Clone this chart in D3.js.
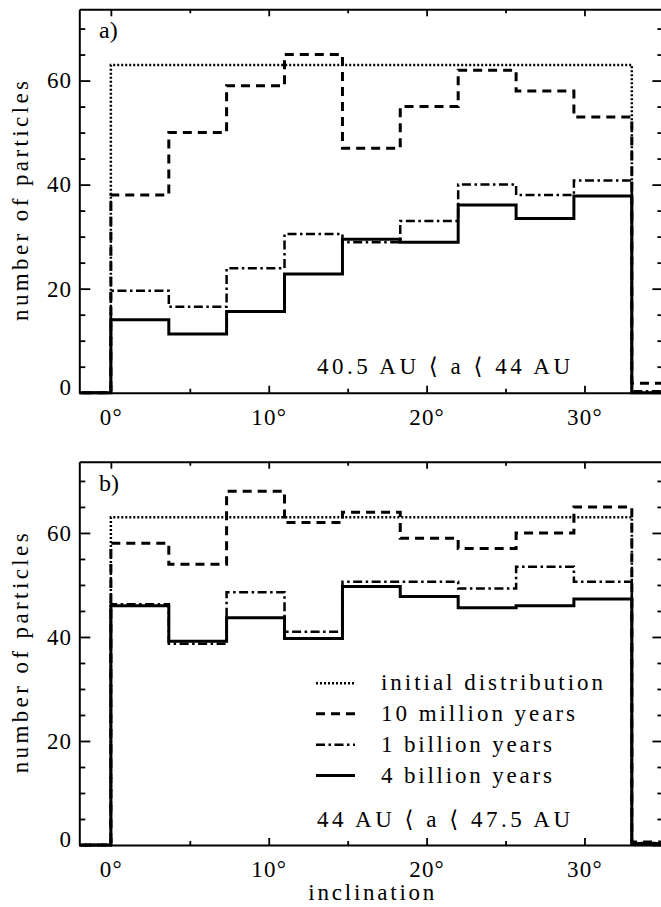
<!DOCTYPE html>
<html>
<head>
<meta charset="utf-8">
<script src="https://cdn.jsdelivr.net/npm/d3@7"></script>
<style>
  html, body { margin: 0; padding: 0; background: #fff; }
  svg { display: block; }
  text { font-family: "Liberation Serif", "DejaVu Serif", serif; fill: #000; }
</style>
</head>
<body>
<svg id="chart" width="661" height="907"></svg>
<script>
// ---- data ----
const binEdges = [-3.67, 0, 3.67, 7.33, 11, 14.67, 18.33, 22, 25.67, 29.33, 33, 36.67];

const aInitial = [0, 63, 63, 63, 63, 63, 63, 63, 63, 63, 0];
const a10M     = [0, 38, 50, 59, 65, 47, 55, 62, 58, 53, 1.8];
const a1B      = [0, 19.6, 16.5, 23.9, 30.5, 28.9, 33, 40, 38, 40.8, 0.3];
const a4B      = [0, 14, 11.3, 15.6, 22.8, 29.5, 28.9, 36.1, 33.5, 37.8, 0];

const bInitial = [0, 63, 63, 63, 63, 63, 63, 63, 63, 63, 0];
const b10M     = [0, 58, 54, 68, 62, 64, 59, 57, 60, 65, 0.6];
const b1B      = [0, 46.3, 38.7, 48.6, 41, 50.6, 50.6, 49.3, 53.5, 50.6, 0.4];
const b4B      = [0, 46, 39.2, 43.7, 39.7, 49.7, 47.8, 45.6, 46, 47.3, 0.3];

const xMajorTicks = [0, 10, 20, 30];
const xMinorTicks = [5, 15, 25];
const yMajorTicks = [0, 20, 40, 60];
const yMinorTicks = [5, 10, 15, 25, 30, 35, 45, 50, 55, 65, 70];

const seriesNames = ["initial distribution", "10 million years", "1 billion years", "4 billion years"];
const panelLabels = ["a)", "b)"];
const rangeLabels = ["40.5 AU \u27E8 a \u27E8 44 AU", "44 AU \u27E8 a \u27E8 47.5 AU"];
const xTitle = "inclination";
const yTitle = "number of particles";

// ---- styles ----
const styles = [
  { dash: "2,2", width: 2.5 },
  { dash: "9,6", width: 3 },
  { dash: "9,3.5,2.5,3.5", width: 2.5 },
  { dash: null, width: 3 }
];

const svg = d3.select("#chart");
const left = 79.3, right = 663.4;
const x = d3.scaleLinear().domain([-2, 35]).range([left, right]);

const panels = [
  { top: 9.3, bottom: 392.7, data: [aInitial, a10M, a1B, a4B], label: panelLabels[0], range: rangeLabels[0], legend: false },
  { top: 461.7, bottom: 845, data: [bInitial, b10M, b1B, b4B], label: panelLabels[1], range: rangeLabels[1], legend: true }
];

panels.forEach((p, pi) => {
  const y = d3.scaleLinear().domain([0, 73.7]).range([p.bottom, p.top]);
  const g = svg.append("g");

  const clipId = "clip" + pi;
  svg.append("clipPath").attr("id", clipId)
    .append("rect").attr("x", left).attr("y", p.top)
    .attr("width", right - left).attr("height", p.bottom - p.top + 2.5);

  const line = d3.line().x(d => x(d[0])).y(d => y(d[1])).curve(d3.curveStepAfter);

  p.data.forEach((vals, si) => {
    const pts = vals.map((v, i) => [binEdges[i], v]);
    pts.push([binEdges[vals.length], vals[vals.length - 1]]);
    g.append("path")
      .attr("clip-path", `url(#${clipId})`)
      .attr("d", line(pts))
      .attr("fill", "none")
      .attr("stroke", "#000")
      .attr("stroke-width", styles[si].width)
      .attr("stroke-dasharray", styles[si].dash);
  });

  // axes
  const axStyle = sel => {
    sel.select(".domain").attr("stroke-width", 2);
    sel.selectAll(".tick line").attr("stroke-width", 1.8);
  };
  const yl = g.append("g").attr("transform", `translate(${left},0)`)
    .call(d3.axisLeft(y).tickValues(yMajorTicks).tickSizeInner(-11).tickSizeOuter(0).tickPadding(7).tickFormat(d3.format("d")))
    .call(axStyle);
  yl.selectAll("text").attr("font-size", 23).attr("font-family", "Liberation Serif").attr("letter-spacing", 1.2);
  yl.selectAll(".tick").filter(d => d === 0).select("text").attr("dy", "0.08em");
  g.append("g").attr("transform", `translate(${left},0)`)
    .call(d3.axisLeft(y).tickValues(yMinorTicks).tickSize(-6).tickFormat(""))
    .call(axStyle).select(".domain").remove();

  const yr = g.append("g").attr("transform", `translate(${right},0)`)
    .call(d3.axisRight(y).tickValues(yMajorTicks).tickSize(-11).tickFormat(""))
    .call(axStyle);
  yr.select(".domain").remove();
  g.append("g").attr("transform", `translate(${right},0)`)
    .call(d3.axisRight(y).tickValues(yMinorTicks).tickSize(-6).tickFormat(""))
    .call(axStyle).select(".domain").remove();

  const xb = g.append("g").attr("transform", `translate(0,${p.bottom})`)
    .call(d3.axisBottom(x).tickValues(xMajorTicks).tickSizeInner(-7).tickSizeOuter(0).tickPadding(16).tickFormat(d => d + "\u00B0"))
    .call(axStyle);
  xb.selectAll("text").attr("font-size", 23).attr("font-family", "Liberation Serif").attr("letter-spacing", 1.2);
  g.append("g").attr("transform", `translate(0,${p.bottom})`)
    .call(d3.axisBottom(x).tickValues(xMinorTicks).tickSize(-4).tickFormat(""))
    .call(axStyle).select(".domain").remove();

  g.append("g").attr("transform", `translate(0,${p.top})`)
    .call(d3.axisTop(x).tickValues(xMajorTicks).tickSizeInner(-7).tickSizeOuter(0).tickFormat(""))
    .call(axStyle);
  g.append("g").attr("transform", `translate(0,${p.top})`)
    .call(d3.axisTop(x).tickValues(xMinorTicks).tickSize(-4).tickFormat(""))
    .call(axStyle).select(".domain").remove();

  // panel label
  g.append("text").attr("x", 99).attr("y", p.top + 29)
    .attr("font-size", 24).text(p.label);

  // range annotation
  g.append("text").attr("x", 317).attr("y", p.bottom - 18.5)
    .attr("font-size", 23)
    .attr("textLength", 253).attr("lengthAdjust", "spacing")
    .text(p.range);

  // y title
  g.append("text")
    .attr("transform", `translate(28,${(p.top + p.bottom) / 2}) rotate(-90)`)
    .attr("text-anchor", "middle")
    .attr("font-size", 23)
    .attr("textLength", 240).attr("lengthAdjust", "spacing")
    .text(yTitle);

  if (p.legend) {
    const rowY = [683.3, 713.8, 744.8, 775.5];
    const textLens = [222, 194, 171, 171];
    seriesNames.forEach((name, si) => {
      g.append("line")
        .attr("x1", 316).attr("x2", 355)
        .attr("y1", rowY[si]).attr("y2", rowY[si])
        .attr("stroke", "#000")
        .attr("stroke-width", styles[si].width)
        .attr("stroke-dasharray", styles[si].dash);
      g.append("text").attr("x", 381).attr("y", rowY[si] + 7)
        .attr("font-size", 23)
        .attr("textLength", textLens[si]).attr("lengthAdjust", "spacing")
        .text(name);
    });
  }
});

// x title
svg.append("text").attr("x", (left + right) / 2).attr("y", 900)
  .attr("text-anchor", "middle").attr("font-size", 23)
  .attr("textLength", 126).attr("lengthAdjust", "spacing")
  .text(xTitle);
</script>
</body>
</html>
